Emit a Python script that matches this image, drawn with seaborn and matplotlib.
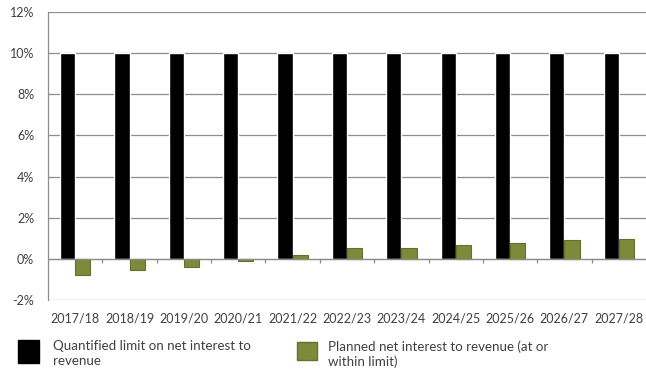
import matplotlib
matplotlib.use("Agg")
import matplotlib.pyplot as plt
import matplotlib.patches as mpatches
import seaborn as sns
import pandas as pd

years = ["2017/18", "2018/19", "2019/20", "2020/21", "2021/22", "2022/23",
         "2023/24", "2024/25", "2025/26", "2026/27", "2027/28"]
limit = [10, 10, 10, 10, 10, 10, 10, 10, 10, 10, 10]
planned = [-0.8, -0.55, -0.4, -0.1, 0.2, 0.53, 0.53, 0.66, 0.79, 0.92, 0.98]
series_names = ["Quantified limit on net interest to\nrevenue",
                "Planned net interest to revenue (at or\nwithin limit)"]
y_ticks = [-2, 0, 2, 4, 6, 8, 10, 12]

colors = ["#000000", "#7d8a3a"]
grid_gray = "#8c8c8c"
text_gray = "#404040"

df = pd.DataFrame({
    "year": years * 2,
    "value": limit + planned,
    "series": [series_names[0]] * len(years) + [series_names[1]] * len(years),
})

sns.set_style("white")
plt.rcParams["font.family"] = ["Lato", "DejaVu Sans"]

fig = plt.figure(figsize=(6.46, 3.78), dpi=100)
ax = fig.add_axes([0.0743, 0.2063, 0.9257, 0.7619])

sns.barplot(data=df, x="year", y="value", hue="series", order=years,
            hue_order=series_names, palette=colors, width=0.56,
            legend=False, ax=ax, saturation=1)

for bar in ax.patches[len(years):]:
    bar.set_edgecolor("#66702c")
    bar.set_linewidth(0.8)

ax.set_ylim(-2, 12)
ax.set_xlim(-0.5, len(years) - 0.5)
ax.set_yticks(y_ticks)
ax.set_yticklabels([f"{t}%" for t in y_ticks])
for t in y_ticks:
    ax.axhline(t, color=grid_gray, lw=0.9, zorder=0)
ax.axhline(0, color=grid_gray, lw=0.9, zorder=3)

# category separator ticks on the zero line
ax.vlines([i + 0.5 for i in range(len(years) - 1)], -0.2, 0,
          color=grid_gray, lw=0.9, zorder=3)

for s in ["top", "right", "bottom"]:
    ax.spines[s].set_visible(False)
ax.spines["left"].set_color(grid_gray)
ax.spines["left"].set_linewidth(0.9)

ax.set_xlabel("")
ax.set_ylabel("")
ax.tick_params(axis="both", labelsize=9, colors=text_gray)
ax.tick_params(axis="x", length=0, pad=9)
ax.tick_params(axis="y", length=5, width=0.9, color=grid_gray, pad=5)

# legend beneath the axes
fig.patches.append(mpatches.Rectangle((18 / 646, 1 - 363 / 378), 21 / 646, 23 / 378,
                                      transform=fig.transFigure, color="black"))
fig.text(53 / 646, 1 - 340 / 378, series_names[0], fontsize=9.6, color=text_gray,
         va="top", linespacing=1.3)
fig.patches.append(mpatches.Rectangle((297 / 646, 1 - 360 / 378), 20 / 646, 18 / 378,
                                      transform=fig.transFigure,
                                      facecolor=colors[1], edgecolor="#66702c"))
fig.text(328 / 646, 1 - 340 / 378, series_names[1], fontsize=9.6, color=text_gray,
         va="top", linespacing=1.3)

fig.savefig("out.png", dpi=100)
